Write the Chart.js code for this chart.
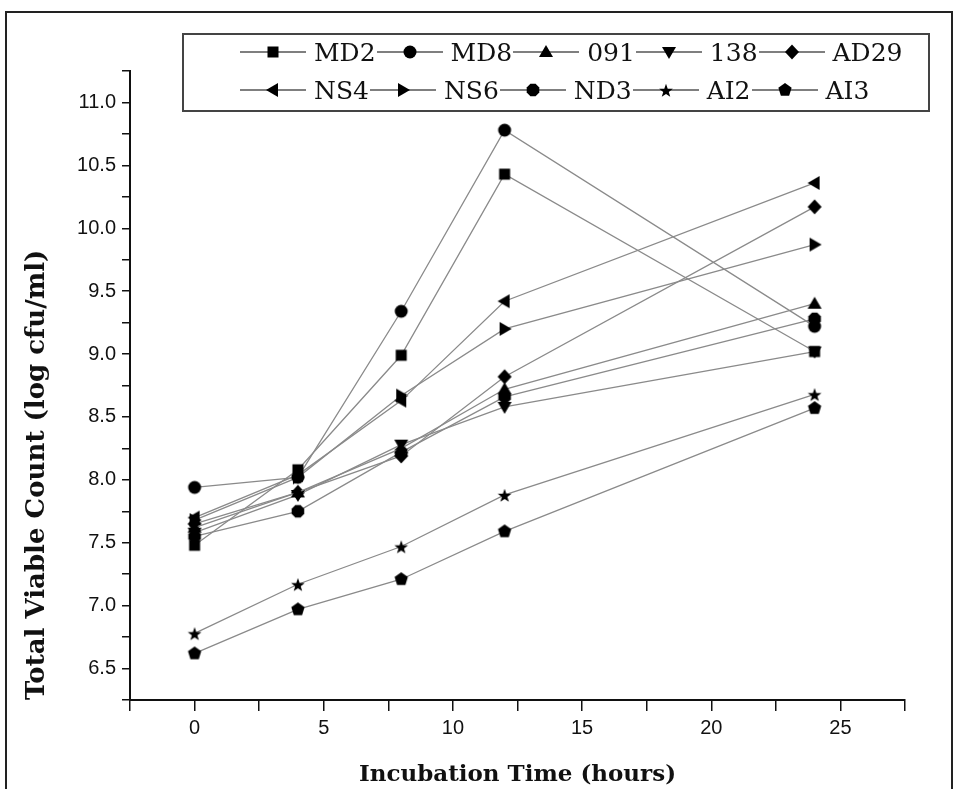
<!DOCTYPE html>
<html>
<head>
<meta charset="utf-8">
<script src="https://cdn.jsdelivr.net/npm/chart.js@4.4.0/dist/chart.umd.min.js"></script>
<style>
  body { margin: 0; background: #fff; }
  #wrap { position: relative; width: 957px; height: 789px; overflow: hidden; }
  #frame { position: absolute; left: 5px; top: 11px; width: 944px; height: 820px; border: 2px solid #222; }
  #legend { position: absolute; left: 182px; top: 33px; width: 744px; height: 75px;
    border: 2px solid #444; font-family: "DejaVu Serif", serif; font-size: 25px; color: #111; }
  .row { position: absolute; left: 56px; height: 36px; display: flex; align-items: center; }
  .row span { margin: 0 1px 0 8px; }
  canvas.sym { display: block; }
</style>
</head>
<body>
<div id="wrap">
  <div id="frame"></div>
  <canvas id="lineChart" width="957" height="789" style="position:absolute;left:0;top:0"></canvas>
  <div id="legend">
    <div class="row" id="row1" style="top:-1px"></div>
    <div class="row" id="row2" style="top:37px"></div>
  </div>
</div>
<script>
// incubation time, hours
const hours = [0, 4, 8, 12, 24];

// total viable count, log cfu/ml
const md2  = [7.48, 8.08, 8.99, 10.43, 9.02];
const md8  = [7.94, 8.02, 9.34, 10.78, 9.22];
const s091 = [7.62, 7.90, 8.25, 8.72, 9.40];
const s138 = [7.58, 7.88, 8.28, 8.58, 9.02];
const ad29 = [7.65, 7.90, 8.19, 8.82, 10.17];
const ns4  = [7.70, 8.04, 8.63, 9.42, 10.36];
const ns6  = [7.68, 8.02, 8.67, 9.20, 9.87];
const nd3  = [7.55, 7.75, 8.22, 8.66, 9.28];
const ai2  = [6.78, 7.17, 7.47, 7.88, 8.68];
const ai3  = [6.62, 6.97, 7.21, 7.59, 8.57];

const names  = ["MD2", "MD8", "091", "138", "AD29", "NS4", "NS6", "ND3", "AI2", "AI3"];
const values = [md2, md8, s091, s138, ad29, ns4, ns6, nd3, ai2, ai3];
const shapes = ["square", "circle", "up", "down", "diamond", "left", "right", "octagon", "star", "pentagon"];

const yTicks = [6.5, 7.0, 7.5, 8.0, 8.5, 9.0, 9.5, 10.0, 10.5, 11.0];
const xTicks = [0, 5, 10, 15, 20, 25];

function path(g, pts) {
	g.moveTo(pts[0][0], pts[0][1]);
	for (let i = 1; i < pts.length; i++) g.lineTo(pts[i][0], pts[i][1]);
	g.closePath();
}

function polygon(m, n, r, rot) {
	const pts = [];
	for (let i = 0; i < n; i++) {
		const a = rot + i * 2 * Math.PI / n;
		pts.push([m + r * Math.cos(a), m + r * Math.sin(a)]);
	}
	return pts;
}

function marker(shape) {
	const c = document.createElement("canvas");
	c.width = c.height = 18;
	const g = c.getContext("2d");
	const m = 9;
	g.fillStyle = "#000";
	g.beginPath();
	switch (shape) {
		case "square": g.rect(m - 5.5, m - 5.5, 11, 11); break;
		case "circle": g.arc(m, m, 6.5, 0, Math.PI * 2); break;
		case "up": path(g, [[m, m - 7], [m + 7, m + 5], [m - 7, m + 5]]); break;
		case "down": path(g, [[m - 7, m - 5], [m + 7, m - 5], [m, m + 7]]); break;
		case "diamond": path(g, [[m, m - 7.5], [m + 7, m], [m, m + 7.5], [m - 7, m]]); break;
		case "left": path(g, [[m - 7, m], [m + 5, m - 7], [m + 5, m + 7]]); break;
		case "right": path(g, [[m + 7, m], [m - 5, m - 7], [m - 5, m + 7]]); break;
		case "octagon": path(g, polygon(m, 8, 6.8, Math.PI / 8)); break;
		case "pentagon": path(g, polygon(m, 5, 7, -Math.PI / 2)); break;
		case "star": {
			const pts = [];
			for (let i = 0; i < 10; i++) {
				const r = i % 2 ? 2.9 : 7.2;
				const a = -Math.PI / 2 + i * Math.PI / 5;
				pts.push([m + r * Math.cos(a), m + 1 + r * Math.sin(a)]);
			}
			path(g, pts);
			break;
		}
	}
	g.fill();
	return c;
}

const markers = shapes.map(marker);

// html legend, two rows of five
names.forEach((name, i) => {
	const row = document.getElementById(i < 5 ? "row1" : "row2");
	const sym = document.createElement("canvas");
	sym.className = "sym";
	sym.width = 66;
	sym.height = 22;
	const g = sym.getContext("2d");
	g.strokeStyle = "#555";
	g.lineWidth = 1.5;
	g.beginPath();
	g.moveTo(0, 11);
	g.lineTo(66, 11);
	g.stroke();
	g.drawImage(markers[i], 33 - 9, 11 - 9);
	const label = document.createElement("span");
	label.textContent = name;
	row.appendChild(sym);
	row.appendChild(label);
});

const datasets = names.map((name, i) => ({
	label: name,
	data: hours.map((h, j) => ({ x: h, y: values[i][j] })),
	borderColor: "#8a8a8a",
	borderWidth: 1.3,
	pointStyle: markers[i],
	pointRadius: 7,
	fill: false,
	tension: 0,
}));

const tickFont = { family: "'Liberation Sans Narrow', 'Liberation Sans', sans-serif", size: 20 };
const titleFont = { family: "'DejaVu Serif', serif", size: 23, weight: "bold" };

const isTick = (list, v) => list.some((t) => Math.abs(t - v) < 1e-6);

new Chart(document.getElementById("lineChart"), {
	type: "line",
	data: { datasets: datasets },
	options: {
		responsive: false,
		animation: false,
		devicePixelRatio: 1,
		layout: { padding: { left: 18, top: 71, right: 52, bottom: 0 } },
		plugins: { legend: { display: false }, tooltip: { enabled: false } },
		scales: {
			x: {
				type: "linear",
				min: -2.5,
				max: 27.5,
				afterFit: (s) => { s.height = 89; },
				ticks: {
					stepSize: 2.5,
					autoSkip: false,
					maxRotation: 0,
					padding: 5,
					color: "#111",
					font: tickFont,
					callback: (v) => (isTick(xTicks, v) ? String(v) : ""),
				},
				grid: { drawOnChartArea: false, tickLength: 11, color: "#111", lineWidth: 1.5 },
				border: { color: "#111", width: 2 },
				title: {
					display: true,
					text: "Incubation Time (hours)",
					color: "#111",
					font: titleFont,
					padding: { top: 0, bottom: 0 },
				},
			},
			y: {
				min: 6.25,
				max: 11.25,
				afterFit: (s) => { s.width = 112; },
				ticks: {
					stepSize: 0.25,
					autoSkip: false,
					padding: 6,
					color: "#111",
					font: tickFont,
					callback: (v) => (isTick(yTicks, v) ? v.toFixed(1) : ""),
				},
				grid: { drawOnChartArea: false, tickLength: 8, color: "#111", lineWidth: 1.5 },
				border: { color: "#111", width: 2 },
				title: {
					display: true,
					text: "Total Viable Count (log cfu/ml)",
					align: "start",
					color: "#111",
					font: { family: "'DejaVu Serif', serif", size: 26, weight: "bold" },
					padding: { top: 4, bottom: 0 },
				},
			},
		},
	},
});
</script>
</body>
</html>
